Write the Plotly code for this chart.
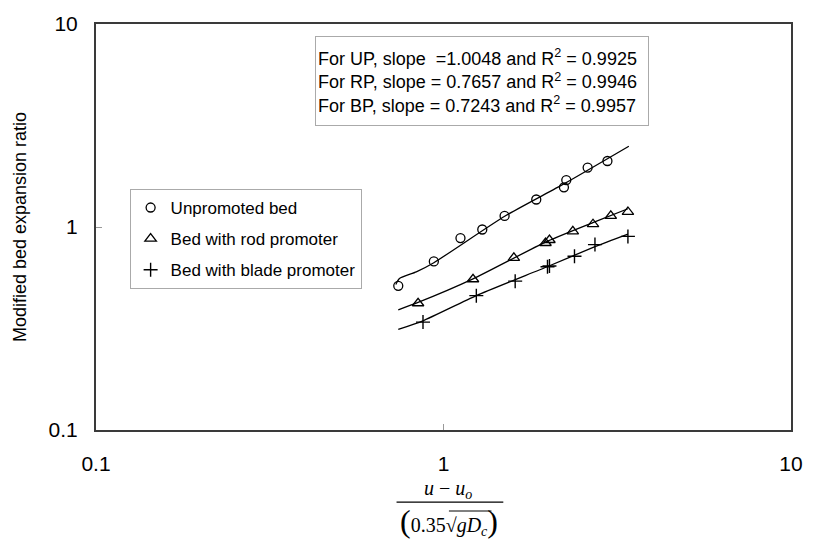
import plotly.graph_objects as go

# ---- data ----
up_x = [0.741, 0.938, 1.119, 1.293, 1.499, 1.849, 2.221, 2.256, 2.599, 2.963]
up_y = [0.513, 0.677, 0.882, 0.972, 1.134, 1.366, 1.569, 1.703, 1.963, 2.114]

rp_x = [0.845, 1.216, 1.594, 1.966, 2.018, 2.356, 2.693, 3.030, 3.394]
rp_y = [0.421, 0.553, 0.705, 0.834, 0.863, 0.951, 1.032, 1.134, 1.186]

bp_x = [0.873, 1.243, 1.608, 1.992, 2.018, 2.382, 2.728, 3.394]
bp_y = [0.340, 0.459, 0.541, 0.637, 0.642, 0.718, 0.819, 0.899]

# fitted (smoothed) curves
up_fit_x = [0.729, 0.747, 0.835, 0.938, 1.50, 2.22, 3.415]
up_fit_y = [0.521, 0.557, 0.601, 0.667, 1.13, 1.63, 2.50]
rp_fit_x = [0.741, 0.845, 1.216, 1.96, 2.69, 3.394]
rp_fit_y = [0.391, 0.425, 0.555, 0.84, 1.05, 1.23]
bp_fit_x = [0.741, 0.873, 1.243, 1.995, 2.728, 3.394]
bp_fit_y = [0.313, 0.345, 0.459, 0.639, 0.80, 0.923]

names = ["Unpromoted bed", "Bed with rod promoter", "Bed with blade promoter"]
fit_text = [
    "For UP, slope  =1.0048 and R<sup>2</sup> = 0.9925",
    "For RP, slope = 0.7657 and R<sup>2</sup> = 0.9946",
    "For BP, slope = 0.7243 and R<sup>2</sup> = 0.9957",
]
tick_vals = [0.1, 1, 10]
tick_text = ["0.1", "1", "10"]
y_title = "Modified bed expansion ratio"

SANS = "Liberation Sans, Arial, sans-serif"
SERIF = "Liberation Serif, Times New Roman, serif"

fig = go.Figure()

line_style = dict(color="black", width=1.3, shape="spline", smoothing=0.6)
for fx, fy in [(up_fit_x, up_fit_y), (rp_fit_x, rp_fit_y), (bp_fit_x, bp_fit_y)]:
    fig.add_trace(go.Scatter(x=fx, y=fy, mode="lines", line=line_style,
                             showlegend=False, hoverinfo="skip"))

markers = [
    dict(symbol="circle-open", size=9, color="black", line=dict(width=1.3, color="black")),
    dict(symbol="triangle-up-open", size=10, color="black", line=dict(width=1.3, color="black")),
    dict(symbol="cross-thin-open", size=10, color="black", line=dict(width=1.4, color="black")),
]
for i, (xs, ys) in enumerate([(up_x, up_y), (rp_x, rp_y), (bp_x, bp_y)]):
    fig.add_trace(go.Scatter(x=xs, y=ys, mode="markers", name=names[i],
                             marker=markers[i], legendgroup=f"g{i}"))

axis_common = dict(
    type="log", showgrid=False, zeroline=False,
    showline=True, mirror=True, linecolor="#3a3a3a", linewidth=2,
    ticks="inside", ticklen=6, tickwidth=1, tickcolor="#999999",
    tickvals=tick_vals, ticktext=tick_text,
    tickfont=dict(family=SANS, size=21, color="black"),
)
fig.update_xaxes(range=[-1, 1], ticklabelstandoff=14, **axis_common)
fig.update_yaxes(range=[-1, 1], ticklabelstandoff=12,
                 title=dict(text=y_title, font=dict(family=SANS, size=18, color="black"),
                            standoff=17),
                 **axis_common)

W, H = 815, 547
L, R, T, B = 96, 16, 19, 117
pw, ph = W - L - R, H - T - B


def px_x(x):
    return (x - L) / pw


def px_y(y):
    return (H - B - y) / ph


big = "<span style='font-size:32px'>%s</span>"
annotations = [
    dict(text="<br>".join(fit_text), xref="paper", yref="paper",
         x=px_x(486.5), y=px_y(77), xanchor="center", yanchor="middle",
         showarrow=False, align="left", width=328, height=84,
         bordercolor="#aaaaaa", borderwidth=1, borderpad=2, bgcolor="white",
         font=dict(family=SANS, size=18, color="black")),
    # x-axis title as a fraction
    dict(text="<i>u</i> \u2212 <i>u</i><sub><i>o</i></sub>", xref="paper", yref="paper",
         x=px_x(452), y=px_y(490), xanchor="center", yanchor="middle", showarrow=False,
         font=dict(family=SERIF, size=20, color="black")),
    dict(text=(big % "(") + "0.35\u221a<i>gD</i><sub><i>c</i></sub>" + (big % ")"),
         xref="paper", yref="paper",
         x=px_x(453), y=px_y(522), xanchor="center", yanchor="middle", showarrow=False,
         font=dict(family=SERIF, size=20, color="black")),
]

shapes = [
    dict(type="line", xref="paper", yref="paper", x0=px_x(400), x1=px_x(508),
         y0=px_y(503), y1=px_y(503), line=dict(color="black", width=1.2)),
    dict(type="line", xref="paper", yref="paper", x0=px_x(453), x1=px_x(496),
         y0=px_y(512), y1=px_y(512), line=dict(color="black", width=1)),
]

fig.update_layout(
    width=W, height=H,
    margin=dict(l=L, r=R, t=T, b=B, pad=0),
    paper_bgcolor="white", plot_bgcolor="white",
    showlegend=True,
    legend=dict(x=px_x(130), y=px_y(186), xanchor="left", yanchor="top",
                bordercolor="#aaaaaa", borderwidth=1, bgcolor="white",
                font=dict(family=SANS, size=17, color="black"),
                itemwidth=30, tracegroupgap=6),
    annotations=annotations, shapes=shapes,
)

fig.write_html("out.html")
